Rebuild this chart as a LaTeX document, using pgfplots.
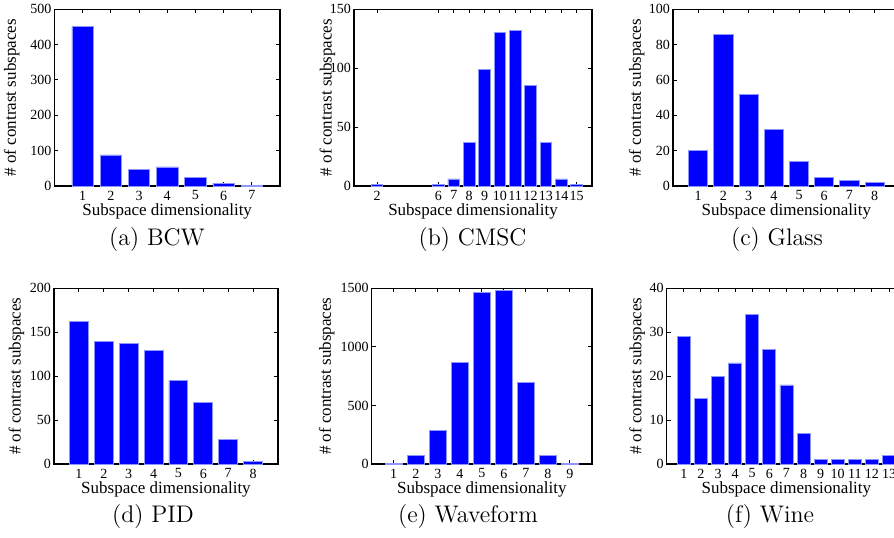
\documentclass[border=0pt]{standalone}
\usepackage{fontspec}
\usepackage{pgfplots}
\pgfplotsset{compat=1.18}
\newfontfamily\tnr{Liberation Serif}
\definecolor{barblue}{RGB}{0,0,255}
\definecolor{baredge}{RGB}{140,150,255}
\pgfplotsset{
  mybar/.style={
    scale only axis, ybar, bar width=0.76, ymin=0, xtick=data,
    axis line style={line width=0.6pt},
    every tick/.style={black, line width=0.5pt},
    major tick length=2pt,
    tick align=inside,
    /pgf/number format/assume math mode=true,
    /pgf/number format/1000 sep={},
    scaled y ticks=false,
    tick label style={font=\tnr\fontsize{7}{8}\selectfont, inner sep=0.8pt},
    xticklabel style={yshift=-1.4pt},
    yticklabel style={xshift=-0.6pt},
    label style={font=\tnr\fontsize{8.5}{10}\selectfont, inner sep=0.5pt},
    xlabel={Subspace dimensionality},
    ylabel={\# of contrast subspaces},
    xlabel style={at={([yshift=-12.6pt]axis description cs:0.5,0)}, anchor=center},
    anchor=south west,
  },
  ylab/.style={ylabel style={at={([xshift=-#1]axis description cs:0,0.5)}, anchor=center}},
  bars/.style={fill=barblue, draw=baredge, line width=0.4pt},
}
\begin{document}
\begin{tikzpicture}
% (a) BCW
\begin{axis}[mybar, ylab=21.4pt, at={(27.25pt,-93pt)}, width=112.75pt, height=88.35pt,
  xmin=0, xmax=8, ymax=500, ytick={0,100,200,300,400,500}]
\addplot[bars] coordinates {(1,451) (2,88) (3,47) (4,54) (5,24) (6,8.5) (7,0.5)};
\end{axis}
% (b) CMSC
\begin{axis}[mybar, ylab=13.3pt, at={(177pt,-93pt)}, width=119pt, height=88.4pt,
  xmin=0.5, xmax=16, ymax=150, ytick={0,50,100,150}]
\addplot[bars] coordinates {(2,1) (6,1) (7,6) (8,37) (9,99) (10,130) (11,132) (12,85) (13,37) (14,6) (15,1)};
\end{axis}
% (c) Glass
\begin{axis}[mybar, ylab=18.2pt, at={(336.5pt,-93pt)}, width=113.4pt, height=88.3pt,
  xmin=0, xmax=9, ymax=100, ytick={0,20,40,60,80,100}]
\addplot[bars] coordinates {(1,20) (2,86) (3,52) (4,32) (5,14) (6,5) (7,3) (8,2)};
\end{axis}
% (d) PID
\begin{axis}[mybar, ylab=18.8pt, at={(27pt,-232pt)}, width=112pt, height=87.85pt,
  xmin=0, xmax=9, ymax=200, ytick={0,50,100,150,200}]
\addplot[bars] coordinates {(1,162) (2,140) (3,137) (4,129) (5,95) (6,70) (7,28) (8,3)};
\end{axis}
% (e) Waveform
\begin{axis}[mybar, ylab=22.5pt, at={(185.85pt,-232pt)}, width=110.15pt, height=87.85pt,
  xmin=0, xmax=10, ymax=1500, ytick={0,500,1000,1500}]
\addplot[bars] coordinates {(1,3) (2,74) (3,290) (4,865) (5,1468) (6,1480) (7,700) (8,74) (9,2)};
\end{axis}
% (f) Wine
\begin{axis}[mybar, ylab=14.8pt, at={(333.35pt,-232pt)}, width=119.7pt, height=87.85pt,
  xmin=0, xmax=14, ymax=40, ytick={0,10,20,30,40}]
\addplot[bars] coordinates {(1,29) (2,15) (3,20) (4,23) (5,34) (6,26) (7,18) (8,7) (9,1) (10,1) (11,1) (12,1) (13,2)};
\end{axis}
% captions
\begin{scope}[every node/.style={font=\fontsize{12}{14}\selectfont, anchor=center}]
\node at (78.5pt,-120pt) {(a)\ BCW};
\node at (236.25pt,-120pt) {(b)\ CMSC};
\node at (388.5pt,-120pt) {(c)\ Glass};
\node at (76.5pt,-258.35pt) {(d)\ PID};
\node at (234pt,-258.35pt) {(e)\ Waveform};
\node at (385pt,-258.35pt) {(f)\ Wine};
\end{scope}
\pgfresetboundingbox
\path[use as bounding box] (0pt,0pt) rectangle (447pt,-268.5pt);
\end{tikzpicture}
\end{document}
